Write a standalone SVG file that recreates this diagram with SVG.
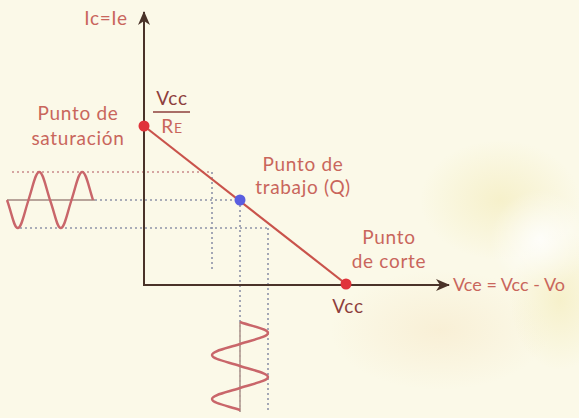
<svg xmlns="http://www.w3.org/2000/svg" width="579" height="418" viewBox="0 0 579 418">
<defs>
<style>
.lbl{font-family:Lato,"Open Sans","Liberation Sans",sans-serif;font-size:19px;letter-spacing:0.7px;fill:#c9665c}
.dark{fill:#8e3f3c}
.axis{stroke:#4a3329;stroke-width:2;fill:none}
.load{stroke:#c9534b;stroke-width:2.2;fill:none}
.dotg{stroke:#8e93a8;stroke-width:1.6;stroke-dasharray:2 3;fill:none}
.dotr{stroke:#c98a8a;stroke-width:1.6;stroke-dasharray:2 3;fill:none}
.wave{stroke:#c9666a;stroke-width:2.4;fill:none}
.waxis{stroke:#b8a49a;stroke-width:1.8;fill:none}
</style>
<marker id="ah" markerWidth="14" markerHeight="12" refX="13" refY="6" orient="auto" markerUnits="userSpaceOnUse">
<path d="M0,0 L14,6 L0,12 L4,6 Z" fill="#4a3329"/>
</marker>
<radialGradient id="blob1" cx="0.5" cy="0.5" r="0.5">
<stop offset="0" stop-color="#f3ebb8" stop-opacity="0.6"/>
<stop offset="1" stop-color="#f3ebb8" stop-opacity="0"/>
</radialGradient>
<radialGradient id="blob2" cx="0.5" cy="0.5" r="0.5">
<stop offset="0" stop-color="#f6e6c4" stop-opacity="0.5"/>
<stop offset="1" stop-color="#f6e6c4" stop-opacity="0"/>
</radialGradient>
<radialGradient id="blob3" cx="0.5" cy="0.5" r="0.5">
<stop offset="0" stop-color="#ffffff" stop-opacity="0.8"/>
<stop offset="1" stop-color="#ffffff" stop-opacity="0"/>
</radialGradient>
</defs>
<rect width="579" height="418" fill="#fbf9e8"/>
<ellipse cx="500" cy="200" rx="80" ry="60" fill="url(#blob1)"/>
<ellipse cx="440" cy="330" rx="110" ry="60" fill="url(#blob2)"/>
<ellipse cx="560" cy="300" rx="50" ry="70" fill="url(#blob1)"/>
<ellipse cx="540" cy="240" rx="50" ry="50" fill="url(#blob3)"/>

<g id="guides">
<path class="dotr" d="M12,172 H212"/>
<path class="dotg" d="M90,200 H240"/>
<path class="dotg" d="M20,228 H268"/>
<path class="dotg" d="M212,172 V272"/>
<path class="dotg" d="M240,200 V412"/>
<path class="dotg" d="M268,228 V412"/>
</g>

<g id="connectors">
<line id="y-axis" class="axis" x1="144" y1="285" x2="144" y2="12" marker-end="url(#ah)"/>
<line id="x-axis" class="axis" x1="143" y1="285" x2="449" y2="285" marker-end="url(#ah)"/>
<line id="load-line" class="load" x1="144" y1="126" x2="346" y2="284"/>
</g>

<g id="input-wave">
<path class="waxis" d="M7,200 H95"/>
<path class="wave" d="M7,200 C12,214 14,228 17.75,228 C21.5,228 24,214 28.5,200 C33,186 35.5,172 39.25,172 C43,172 45.5,186 50,200 C55,214 57,228 60.75,228 C64.5,228 67,214 71.5,200 C76,186 78.5,172 82.25,172 C86,172 88.5,186 93,200"/>
</g>

<g id="output-wave">
<path class="waxis" d="M240,322 V412"/>
<path class="wave" d="M240,322 C254,327 268,329 268,333 C268,337 254,339.5 240,344 C226,348.5 212,351 212,355 C212,359 226,361.5 240,366 C254,370.5 268,373 268,377 C268,381 254,383.5 240,388 C226,392.5 212,395 212,399 C212,403 226,405.5 240,410"/>
</g>

<g id="saturacion">
<circle cx="144" cy="126" r="5.5" fill="#e0333a"/>
<text class="lbl" x="78" y="120" text-anchor="middle">Punto de</text>
<text class="lbl" x="78" y="145" text-anchor="middle">saturación</text>
</g>

<g id="fraction">
<text class="lbl dark" x="172" y="105" text-anchor="middle">Vcc</text>
<line x1="153" y1="112" x2="190" y2="112" stroke="#8e3f3c" stroke-width="1.6"/>
<text class="lbl" x="172" y="133" text-anchor="middle">R<tspan font-size="14">E</tspan></text>
</g>

<g id="q-point">
<circle cx="240" cy="200" r="5.5" fill="#5a5ee0"/>
<text class="lbl" x="303" y="171" text-anchor="middle">Punto de</text>
<text class="lbl" x="303" y="194" text-anchor="middle">trabajo (Q)</text>
</g>

<g id="corte">
<circle cx="346" cy="284" r="5.5" fill="#e0333a"/>
<text class="lbl" x="389" y="244" text-anchor="middle">Punto</text>
<text class="lbl" x="389" y="268" text-anchor="middle">de corte</text>
<text class="lbl dark" x="348" y="313" text-anchor="middle">Vcc</text>
</g>

<g id="axis-labels">
<text class="lbl" x="106" y="25" text-anchor="middle">Ic=Ie</text>
<text class="lbl" x="453" y="291" style="letter-spacing:0;font-size:18px">Vce = Vcc - Vo</text>
</g>
</svg>
